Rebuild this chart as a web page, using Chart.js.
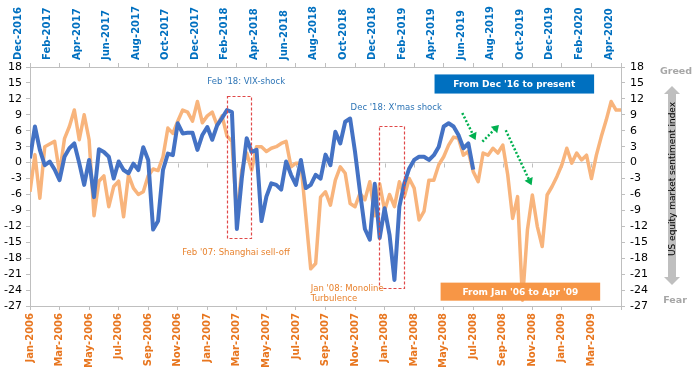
<!DOCTYPE html>
<html><head><meta charset="utf-8">
<script src="https://cdn.jsdelivr.net/npm/chart.js@4.4.1/dist/chart.umd.min.js"></script>
<style>html,body{margin:0;padding:0;background:#fff;}#wrap{width:700px;height:372px;}</style>
</head><body><div id="wrap"><canvas id="c" width="700" height="372"></canvas></div>
<script>
// Top axis (Dec '16 to present), one label every 2 months
const topLabels = ['Dec-2016','Feb-2017','Apr-2017','Jun-2017','Aug-2017','Oct-2017','Dec-2017','Feb-2018','Apr-2018','Jun-2018','Aug-2018','Oct-2018','Dec-2018','Feb-2019','Apr-2019','Jun-2019','Aug-2019','Oct-2019','Dec-2019','Feb-2020','Apr-2020'];
// Bottom axis (Jan '06 to Apr '09)
const bottomLabels = ['Jan-2006','Mar-2006','May-2006','Jul-2006','Sep-2006','Nov-2006','Jan-2007','Mar-2007','May-2007','Jul-2007','Sep-2007','Nov-2007','Jan-2008','Mar-2008','May-2008','Jul-2008','Sep-2008','Nov-2008','Jan-2009','Mar-2009'];
const yTicksMin = -27, yTicksMax = 18, yStep = 3;
const monthsPerPoint = 1/3;

// Sentiment index, from Dec '16 to present (blue)
const recentIndex = [0.8,6.8,2.4,-0.5,0.2,-1.3,-3.3,1.1,2.7,3.6,-0.1,-4.2,0.5,-6.5,2.5,2,1.1,-3,0.2,-1.4,
-2,-0.2,-1.4,2.9,0.5,-12.6,-11,-1.4,1.7,1.4,7.4,5.5,5.6,5.6,2.4,5.2,6.7,4.3,7,8.4,
9.9,9.5,-12.5,-3,4.6,2,2.4,-11,-6.4,-3.9,-4.2,-5.1,0.2,-2.3,-4.2,0.5,-4.8,-4.2,-2.3,-3,
1.5,-0.5,5.8,3.6,7.7,8.3,2,-5.5,-12.5,-14.5,-4,-14.2,-8.6,-13.6,-22.1,-8.3,-3.9,-1.1,0.5,1.1,
1.1,0.5,1.4,3,6.8,7.4,6.8,5.2,2.7,3.6,-1.3];

// Sentiment index, from Jan '06 to Apr '09 (orange)
const pastIndex = [-5.5,1.5,-6.7,3,3.5,4,-2,4.5,6.8,9.9,4.3,9,4.3,-10,-3.5,-2.5,-8.3,-4.5,-3.5,-10.2,
-2.3,-4.8,-6,-5.5,-2.5,-1.2,-1.5,1.1,6.5,5.5,7.8,9.9,9.5,7.8,11.5,7.5,8.8,9.5,7,8.8,
5,4,-10.2,-1.4,1.8,-1.4,3,3,2.1,2.7,3,3.6,4,-0.8,-0.1,-0.1,-10,-20,-19,-6.5,
-5.5,-8,-3.3,-0.8,-2,-7.7,-8.3,-5.8,-7,-3.6,-10,-4,-9,-6,-8.3,-3.6,-6.4,-3,-4.8,-10.8,
-9.2,-3.3,-3.3,-0.4,1.1,3.3,4.8,4.6,1.4,2.1,-1.7,-3.6,1.8,1.4,2.7,1.8,3.3,-2.3,-10.5,-6.4,
-25.9,-12.7,-6.1,-12,-15.8,-6.1,-4.5,-2.6,-0.4,2.7,-0.1,1.8,0.5,1.4,-3,1.4,4.9,8,11.5,9.9,9.9];

const xMax = (topLabels.length - 1) * 2;

// annotations (data units: x = months from axis start, y = index)
const eventBoxes = [
  {x0:13.3, x1:14.95, y0:12.5, y1:-14.2},
  {x0:23.6, x1:25.3, y0:6.9, y1:-23.6}
];
const eventTexts = [
  {text:"Feb '18: VIX-shock", x:12.0, y:15.3, color:'#2e75b6'},
  {text:"Dec '18: X'mas shock", x:21.7, y:10.3, color:'#2e75b6'},
  {text:"Feb '07: Shanghai sell-off", x:10.3, y:-17, color:'#e8832f'},
  {text:"Jan '08: Monoline", x:19.0, y:-23.8, color:'#e8832f'},
  {text:"Turbulence", x:19.0, y:-25.6, color:'#e8832f'}
];
const legendBoxes = [
  {text:"From Dec '16 to present", x0:27.38, x1:38.18, y0:16.6, y1:13.0, fill:'#0070c0'},
  {text:"From Jan '06 to Apr '09", x0:27.79, x1:38.59, y0:-22.6, y1:-26.0, fill:'#f79646'}
];
const greenArrows = [
  {x0:29.26, y0:9.33, x1:30.16, y1:4.26},
  {x0:30.62, y0:3.94, x1:31.74, y1:7.08},
  {x0:32.2, y0:6.09, x1:33.95, y1:-4.26}
];

const FONT = 'DejaVu Sans';

const zeroTicks = {
  id:'zeroTicks',
  beforeDatasetsDraw(chart){
    const {ctx} = chart, sx = chart.scales.x, sy = chart.scales.y;
    const y0 = Math.round(sy.getPixelForValue(0)) + 0.5;
    ctx.save(); ctx.strokeStyle = '#bfbfbf'; ctx.lineWidth = 1;
    for (let v = 0; v <= xMax; v += 2) {
      const px = Math.round(sx.getPixelForValue(v)) + 0.5;
      ctx.beginPath(); ctx.moveTo(px, y0); ctx.lineTo(px, y0 + 4); ctx.stroke();
    }
    ctx.restore();
  }
};

const annotations = {
  id:'annotations',
  afterDatasetsDraw(chart){
    const {ctx} = chart, sx = chart.scales.x, sy = chart.scales.y;
    const X = v => sx.getPixelForValue(v), Y = v => sy.getPixelForValue(v);
    ctx.save();
    ctx.strokeStyle = '#e04848'; ctx.lineWidth = 1.2; ctx.setLineDash([3,2]);
    eventBoxes.forEach(b => {
      ctx.strokeRect(Math.round(X(b.x0))+0.5, Math.round(Y(b.y0))+0.5, Math.round(X(b.x1)-X(b.x0)), Math.round(Y(b.y1)-Y(b.y0)));
    });
    ctx.setLineDash([]);
    ctx.font = '8.5px "' + FONT + '"'; ctx.textAlign = 'left'; ctx.textBaseline = 'middle';
    eventTexts.forEach(t => { ctx.fillStyle = t.color; ctx.fillText(t.text, X(t.x), Y(t.y)); });
    legendBoxes.forEach(b => {
      const x0 = X(b.x0), x1 = X(b.x1), y0 = Y(b.y0), y1 = Y(b.y1);
      ctx.fillStyle = b.fill; ctx.fillRect(x0, y0, x1 - x0, y1 - y0);
      ctx.fillStyle = '#fff'; ctx.font = 'bold 9px "' + FONT + '"'; ctx.textAlign = 'center';
      ctx.fillText(b.text, (x0 + x1) / 2, (y0 + y1) / 2 + 0.5);
    });
    ctx.strokeStyle = '#00b050'; ctx.fillStyle = '#00b050';
    greenArrows.forEach(a => {
      const x0 = X(a.x0), y0 = Y(a.y0), x1 = X(a.x1), y1 = Y(a.y1);
      const ang = Math.atan2(y1 - y0, x1 - x0), hl = 7, hw = 4.5;
      ctx.lineWidth = 2.5; ctx.setLineDash([2,2]);
      ctx.beginPath(); ctx.moveTo(x0, y0); ctx.lineTo(x1 - Math.cos(ang)*hl, y1 - Math.sin(ang)*hl); ctx.stroke();
      ctx.setLineDash([]);
      ctx.beginPath(); ctx.moveTo(x1, y1);
      ctx.lineTo(x1 - Math.cos(ang)*hl - Math.sin(ang)*hw, y1 - Math.sin(ang)*hl + Math.cos(ang)*hw);
      ctx.lineTo(x1 - Math.cos(ang)*hl + Math.sin(ang)*hw, y1 - Math.sin(ang)*hl - Math.cos(ang)*hw);
      ctx.closePath(); ctx.fill();
    });
    ctx.restore();
  }
};

const sidePanel = {
  id:'sidePanel',
  afterDraw(chart){
    const {ctx} = chart;
    const cx = 672, top = 86, bot = 285, hh = 8, hw = 8, sw = 4;
    ctx.save();
    ctx.fillStyle = '#bfbfbf';
    ctx.beginPath();
    ctx.moveTo(cx, top); ctx.lineTo(cx + hw, top + hh); ctx.lineTo(cx + sw, top + hh);
    ctx.lineTo(cx + sw, bot - hh); ctx.lineTo(cx + hw, bot - hh); ctx.lineTo(cx, bot);
    ctx.lineTo(cx - hw, bot - hh); ctx.lineTo(cx - sw, bot - hh); ctx.lineTo(cx - sw, top + hh);
    ctx.lineTo(cx - hw, top + hh); ctx.closePath(); ctx.fill();
    ctx.fillStyle = '#a6a6a6'; ctx.font = 'bold 9.5px "' + FONT + '"';
    ctx.textAlign = 'center'; ctx.textBaseline = 'middle';
    ctx.fillText('Greed', 676, 72);
    ctx.fillText('Fear', 675, 301);
    ctx.translate(cx, 179); ctx.rotate(-Math.PI / 2);
    ctx.fillStyle = '#000'; ctx.font = '9px "' + FONT + '"';
    ctx.fillText('US equity market sentiment index', 0, 0.5);
    ctx.restore();
  }
};

const xTickFont = {family: FONT, size: 10, weight: 'bold'};
const yTickFont = {family: FONT, size: 11};

new Chart(document.getElementById('c'), {
  type: 'line',
  data: {
    datasets: [
      {label: "From Dec '16 to present", data: recentIndex.map((v, i) => ({x: i * monthsPerPoint, y: v})),
       borderColor: '#4472c4', borderWidth: 4, pointRadius: 0, tension: 0, borderJoinStyle: 'round', order: 0, xAxisID: 'x', yAxisID: 'y'},
      {label: "From Jan '06 to Apr '09", data: pastIndex.map((v, i) => ({x: i * monthsPerPoint, y: v})),
       borderColor: '#f8b47c', borderWidth: 3.5, pointRadius: 0, tension: 0, borderJoinStyle: 'round', order: 1, xAxisID: 'x', yAxisID: 'y'}
    ]
  },
  options: {
    responsive: false, animation: false, devicePixelRatio: 1,
    layout: {padding: 0},
    plugins: {legend: {display: false}, tooltip: {enabled: false}},
    scales: {
      x: {type: 'linear', position: 'bottom', min: 0, max: xMax,
        afterFit: s => { s.height = 66; },
        border: {color: '#bfbfbf'},
        grid: {drawOnChartArea: false, tickLength: 4, color: '#bfbfbf'},
        ticks: {stepSize: 2, autoSkip: false, minRotation: 90, maxRotation: 90, padding: 3, color: '#e8761f', font: xTickFont,
          callback: v => bottomLabels[Math.round(v / 2)] || ''}},
      x2: {type: 'linear', position: 'top', min: 0, max: xMax,
        afterFit: s => { s.height = 67; },
        border: {color: '#bfbfbf'},
        grid: {drawOnChartArea: false, tickLength: 4, color: '#bfbfbf'},
        ticks: {stepSize: 2, autoSkip: false, minRotation: 90, maxRotation: 90, padding: 3, color: '#0070c0', font: xTickFont,
          callback: v => topLabels[Math.round(v / 2)] || ''}},
      y: {position: 'left', min: yTicksMin, max: yTicksMax,
        afterFit: s => { s.width = 30; },
        border: {color: '#bfbfbf'},
        grid: {drawOnChartArea: true, tickLength: 4, tickColor: '#bfbfbf',
          color: c => (c.tick && c.tick.value === 0) ? '#c8c8c8' : 'rgba(0,0,0,0)'},
        ticks: {stepSize: yStep, autoSkip: false, color: '#000', font: yTickFont, padding: 4}},
      y2: {position: 'right', min: yTicksMin, max: yTicksMax,
        afterFit: s => { s.width = 79; },
        border: {color: '#bfbfbf'},
        grid: {drawOnChartArea: false, tickLength: 4, color: '#bfbfbf'},
        ticks: {stepSize: yStep, autoSkip: false, color: '#000', font: yTickFont, padding: 5}}
    }
  },
  plugins: [zeroTicks, annotations, sidePanel]
});
</script>
</body></html>
